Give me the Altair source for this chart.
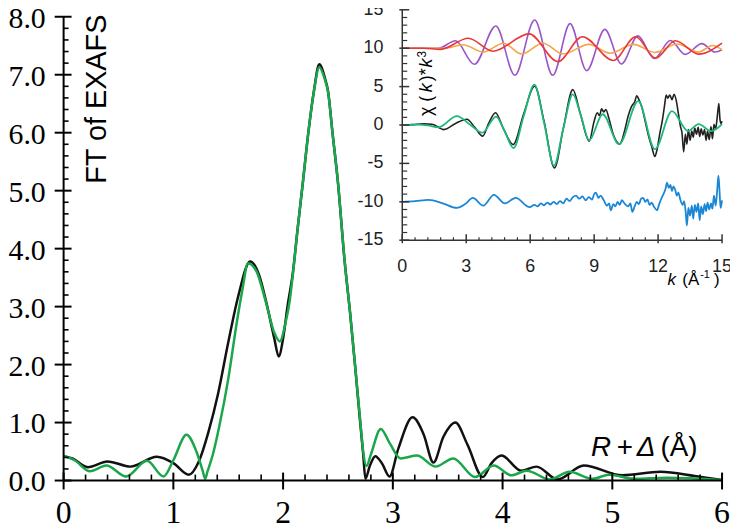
import altair as alt
import pandas as pd

# ---------------- main panel: |FT| of EXAFS ----------------
R_exp = [0.00,0.08,0.22,0.40,0.61,0.85,1.00,1.14,1.23,1.32,1.41,1.50,1.59,1.70,1.78,1.85,1.92,1.96,2.00,2.04,2.09,2.13,2.18,2.23,2.28,2.33,2.38,2.41,2.45,2.50,2.56,2.61,2.66,2.70,2.73,2.75,2.79,2.84,2.90,2.97,3.05,3.18,3.28,3.37,3.46,3.57,3.68,3.82,3.90,3.99,4.17,4.31,4.50,4.74,5.09,5.44,5.75,6.00]
FT_exp = [0.42,0.38,0.23,0.33,0.24,0.41,0.30,0.10,0.32,0.84,1.52,2.38,3.17,3.78,3.55,3.05,2.45,2.14,2.45,3.00,3.60,4.30,5.14,6.00,6.71,7.18,6.95,6.71,6.00,5.14,3.80,2.90,1.90,1.05,0.45,0.03,0.25,0.42,0.30,0.07,0.55,1.09,0.80,0.31,0.75,1.00,0.62,0.06,0.30,0.43,0.17,0.24,0.02,0.26,0.09,0.15,0.08,0.01]

R_fit = [0.00,0.10,0.24,0.39,0.57,0.76,0.91,1.00,1.12,1.21,1.27,1.29,1.31,1.36,1.42,1.50,1.58,1.63,1.68,1.76,1.84,1.92,1.97,2.02,2.06,2.10,2.13,2.18,2.23,2.28,2.33,2.38,2.41,2.45,2.50,2.56,2.61,2.66,2.70,2.73,2.76,2.80,2.89,2.97,3.07,3.22,3.39,3.55,3.75,3.92,4.08,4.22,4.43,4.61,4.82,4.97,5.20,5.50,6.00]
FT_fit = [0.43,0.35,0.16,0.26,0.07,0.34,0.07,0.35,0.79,0.50,0.15,0.03,0.15,0.45,0.95,1.75,2.75,3.30,3.75,3.60,3.10,2.55,2.40,2.70,3.10,3.75,4.30,5.14,6.00,6.70,7.13,6.92,6.70,6.00,5.14,3.80,2.90,1.90,1.10,0.50,0.25,0.45,0.89,0.65,0.38,0.43,0.24,0.38,0.06,0.26,0.09,0.17,0.02,0.15,0.03,0.10,0.03,0.05,0.01]

main_x_major = [0, 1, 2, 3, 4, 5, 6]
main_x_labels = ["0", "1", "2", "3", "4", "5", "6"]
main_x_minor = [round(i * 0.2, 1) for i in range(31) if i % 5 != 0]
main_y_major = [0, 1, 2, 3, 4, 5, 6, 7, 8]
main_y_labels = ["0.0", "1.0", "2.0", "3.0", "4.0", "5.0", "6.0", "7.0", "8.0"]
main_y_minor = [round(i * 0.2, 1) for i in range(41) if i % 5 != 0]

# ---------------- inset: chi(k)*k^3 ----------------
k_purple = [0.0,1.7,2.5,3.38,4.39,5.28,6.21,7.06,7.87,8.65,9.5,10.28,11.05,11.82,12.58,13.27,14.05,14.67,15.0]
v_purple = [10,10,10.96,7.9,12.9,6.47,13.67,6.47,13.2,7.07,12.45,7.95,11.6,8.65,11.0,9.2,10.6,9.5,9.8]

k_orange = [0.0,2.0,2.85,3.8,4.75,5.6,6.6,7.55,8.75,9.75,10.85,11.85,12.9,13.9,14.55,15.0]
v_orange = [10,10,10.45,9.5,10.65,9.25,10.65,9.25,10.5,9.35,10.5,9.45,10.55,9.5,10.35,9.8]

k_red = [0.0,1.0,1.8,3.1,4.25,5.95,7.3,8.45,9.9,10.95,11.88,12.81,13.9,15.0]
v_red = [10,10,9.85,11.3,9.6,11.86,8.25,11.5,8.4,11.5,8.71,10.96,9.23,10.65]

k_exp = [0.0,0.5,1.0,1.4,1.95,2.5,3.03,3.4,3.77,4.05,4.37,4.75,5.2,5.7,6.21,6.65,7.14,7.55,8.0,8.35,8.77,9.0,9.15,9.25,9.35,9.45,9.55,9.7,9.85,10.0,10.1,10.2,10.3,10.45,10.6,10.75,10.9,11.0,11.1,11.25,11.4,11.55,11.7,11.85,11.95,12.1,12.2,12.3,12.38,12.45,12.55,12.65,12.75,12.85,12.95,13.05,13.12,13.2,13.28,13.35,13.42,13.5,13.58,13.65,13.72,13.8,13.88,13.95,14.02,14.1,14.18,14.25,14.32,14.4,14.48,14.55,14.62,14.7,14.78,14.85,14.9,14.95,15.0]
v_exp = [0.0,0.05,0.15,0.1,-0.6,0.2,0.75,-0.3,-1.45,0.2,1.6,-0.5,-2.55,1.5,5.05,0.5,-5.6,-0.5,4.6,1.5,-2.1,0.5,1.6,1.2,2.1,1.7,2.0,0.8,-0.8,-1.9,-2.3,-2.5,-2.0,-0.5,1.2,2.4,3.0,3.8,3.3,2.2,0.4,-1.4,-2.8,-4.1,-3.2,-0.8,0.6,2.5,3.9,3.5,3.9,3.3,4.0,3.2,1.5,-0.2,-1.0,-3.5,-1.2,-2.5,-0.6,-2.0,-0.8,-1.6,-0.4,-1.2,-0.3,-1.5,-0.5,-1.3,-0.6,-2.0,-0.8,-1.9,-0.2,-1.8,0.1,-0.5,1.2,2.8,0.8,0.2,0.5]

k_fit = [0.0,0.8,1.2,1.7,2.56,3.2,3.75,4.4,4.8,5.22,5.7,6.2,6.65,7.12,7.55,8.0,8.4,8.77,9.4,10.17,11.07,11.85,12.65,13.4,13.9,14.5,15.0]
v_fit = [0.0,0.05,-0.05,-0.3,1.16,0.0,-1.0,1.1,-0.8,-3.0,1.2,5.25,0.3,-5.3,-0.5,4.0,1.0,-2.0,1.4,-2.5,3.1,-3.15,1.81,-0.78,0.1,-0.8,0.1]

k_res = [0.0,0.6,1.24,1.9,2.56,2.95,3.31,3.8,4.3,4.81,5.32,5.98,6.2,6.35,6.5,6.65,6.8,6.95,7.1,7.25,7.4,7.55,7.7,7.85,8.0,8.15,8.3,8.45,8.6,8.75,8.9,9.0,9.08,9.2,9.3,9.45,9.6,9.7,9.78,9.9,10.0,10.1,10.2,10.3,10.45,10.6,10.7,10.79,10.9,11.0,11.1,11.2,11.3,11.4,11.5,11.6,11.7,11.8,11.95,12.05,12.15,12.25,12.35,12.42,12.5,12.58,12.65,12.72,12.8,12.88,12.95,13.05,13.15,13.22,13.3,13.35,13.42,13.5,13.58,13.65,13.72,13.8,13.88,13.95,14.02,14.1,14.18,14.25,14.32,14.4,14.48,14.55,14.62,14.7,14.78,14.83,14.88,14.93,15.0]
v_res = [-10,-9.9,-9.75,-10.2,-10.8,-10.3,-9.5,-10.5,-9.1,-10.2,-9.5,-10.7,-10.4,-10.6,-10.2,-10.45,-10.1,-10.35,-10.0,-10.3,-9.9,-10.2,-9.6,-9.9,-9.4,-9.2,-9.6,-9.3,-9.8,-9.4,-9.7,-9.0,-8.8,-9.5,-9.2,-9.8,-10.5,-10.2,-11.1,-10.3,-10.6,-10.0,-10.4,-9.8,-10.3,-10.6,-10.2,-11.3,-10.6,-10.0,-10.3,-9.6,-9.5,-10.0,-9.7,-10.4,-10.1,-10.6,-11.1,-10.3,-9.6,-9.0,-8.3,-7.5,-8.2,-7.8,-8.6,-8.0,-8.4,-9.2,-8.8,-9.8,-10.4,-9.9,-11.5,-13.1,-10.8,-11.8,-10.5,-12.2,-10.4,-11.3,-10.2,-12.4,-10.6,-11.6,-10.3,-11.2,-10.1,-11.0,-10.2,-10.9,-9.2,-10.5,-8.2,-6.6,-8.5,-10.8,-9.8]

in_x_major = [0, 3, 6, 9, 12, 15]
in_x_labels = ["0", "3", "6", "9", "12", "15"]
in_x_minor = [round(i * 0.6, 1) for i in range(26) if i % 5 != 0]
in_y_major = [-15, -10, -5, 0, 5, 10, 15]
in_y_labels = ["-15", "-10", "-5", "0", "5", "10", "15"]
in_y_minor = [i for i in range(-15, 16) if i % 5 != 0]

# ---------------- geometry / scales ----------------
W, H = 663, 467
mx = alt.Scale(domain=[0, 6], range=[0, W], nice=False, zero=False)
my = alt.Scale(domain=[0, 8], range=[H, 0], nice=False, zero=False)
ix = alt.Scale(domain=[0, 15], range=[341, 663], nice=False, zero=False)
iy = alt.Scale(domain=[-15, 15], range=[225, -7], nice=False, zero=False)

SERIF = "Liberation Serif"
SANS = "Liberation Sans"


def series(xs, ys, color, width, xs_scale, ys_scale):
    df = pd.DataFrame({"x": xs, "y": ys})
    return alt.Chart(df).mark_line(color=color, strokeWidth=width, interpolate="monotone").encode(
        x=alt.X("x:Q", scale=xs_scale, axis=None),
        y=alt.Y("y:Q", scale=ys_scale, axis=None),
    )


def one_row():
    return pd.DataFrame({"a": [0]})


def label(text, x, y, size, font=SANS, style="normal", angle=0, align="left", baseline="alphabetic"):
    kw = dict(text=text, fontSize=size, font=font, fontStyle=style, align=align, baseline=baseline, color="black")
    if angle:
        kw["angle"] = angle
    return alt.Chart(one_row()).mark_text(**kw).encode(x=alt.value(x), y=alt.value(y))


# ----- main layers -----
m_lines = [
    series(R_exp, FT_exp, "#111111", 2.5, mx, my),
    series(R_fit, FT_fit, "#1aa64a", 2.5, mx, my),
]

m_yaxis = alt.Chart(pd.DataFrame({"a": [0], "b": [8]})).mark_rule(color="black", strokeWidth=2).encode(
    y=alt.Y("a:Q", scale=my, axis=None), y2="b:Q", x=alt.value(0))
m_xaxis = alt.Chart(pd.DataFrame({"a": [0], "b": [6]})).mark_rule(color="black", strokeWidth=2).encode(
    x=alt.X("a:Q", scale=mx, axis=None), x2="b:Q", y=alt.value(H))

m_ytick_major = alt.Chart(pd.DataFrame({"v": main_y_major})).mark_rule(color="black", strokeWidth=2).encode(
    y=alt.Y("v:Q", scale=my, axis=None), x=alt.value(-9), x2=alt.value(8))
m_ytick_minor = alt.Chart(pd.DataFrame({"v": main_y_minor})).mark_rule(color="black", strokeWidth=1.6).encode(
    y=alt.Y("v:Q", scale=my, axis=None), x=alt.value(0), x2=alt.value(5))
m_xtick_major = alt.Chart(pd.DataFrame({"v": main_x_major})).mark_rule(color="black", strokeWidth=2).encode(
    x=alt.X("v:Q", scale=mx, axis=None), y=alt.value(H - 8), y2=alt.value(H + 9))
m_xtick_minor = alt.Chart(pd.DataFrame({"v": main_x_minor})).mark_rule(color="black", strokeWidth=1.6).encode(
    x=alt.X("v:Q", scale=mx, axis=None), y=alt.value(H - 6), y2=alt.value(H))

m_ylab = alt.Chart(pd.DataFrame({"v": main_y_major, "t": main_y_labels})).mark_text(
    align="right", baseline="middle", font=SERIF, fontSize=30, color="black", dy=2).encode(
    y=alt.Y("v:Q", scale=my, axis=None), x=alt.value(-18), text="t:N")
m_xlab = alt.Chart(pd.DataFrame({"v": main_x_major, "t": main_x_labels})).mark_text(
    align="center", baseline="alphabetic", font=SERIF, fontSize=32, color="black").encode(
    x=alt.X("v:Q", scale=mx, axis=None), y=alt.value(H + 43), text="t:N")

m_titles = [
    label("FT of EXAFS", 43, 83, 29, angle=270, align="center"),
    label("R", 531, 442, 28, style="italic"),
    label("+", 557, 442, 28),
    label("\u0394", 577, 442, 28, style="italic"),
    label("(\u00c5)", 601, 442, 28),
]

main = alt.layer(*m_lines, m_yaxis, m_xaxis, m_ytick_major, m_ytick_minor,
                 m_xtick_major, m_xtick_minor, m_ylab, m_xlab, *m_titles)

# ----- inset layers -----
X0, Y0 = 341, 225
i_lines = [
    series(k_purple, v_purple, "#9b55c8", 1.6, ix, iy),
    series(k_orange, v_orange, "#f5a54a", 1.6, ix, iy),
    series(k_red, v_red, "#e8383a", 1.6, ix, iy),
    series(k_exp, v_exp, "#222222", 1.6, ix, iy),
    series(k_fit, v_fit, "#1cb877", 1.8, ix, iy),
    series(k_res, v_res, "#1a86d6", 1.8, ix, iy),
]

i_yaxis = alt.Chart(pd.DataFrame({"a": [-15], "b": [15]})).mark_rule(color="#333333", strokeWidth=1.5).encode(
    y=alt.Y("a:Q", scale=iy, axis=None), y2="b:Q", x=alt.value(X0))
i_xaxis = alt.Chart(pd.DataFrame({"a": [0], "b": [15]})).mark_rule(color="#333333", strokeWidth=1.5).encode(
    x=alt.X("a:Q", scale=ix, axis=None), x2="b:Q", y=alt.value(Y0))
i_ytick_major = alt.Chart(pd.DataFrame({"v": in_y_major})).mark_rule(color="#333333", strokeWidth=1.5).encode(
    y=alt.Y("v:Q", scale=iy, axis=None), x=alt.value(X0 - 3), x2=alt.value(X0 + 7))
i_ytick_minor = alt.Chart(pd.DataFrame({"v": in_y_minor})).mark_rule(color="#333333", strokeWidth=1.2).encode(
    y=alt.Y("v:Q", scale=iy, axis=None), x=alt.value(X0), x2=alt.value(X0 + 5))
i_xtick_major = alt.Chart(pd.DataFrame({"v": in_x_major})).mark_rule(color="#333333", strokeWidth=1.5).encode(
    x=alt.X("v:Q", scale=ix, axis=None), y=alt.value(Y0 - 6), y2=alt.value(Y0 + 3))
i_xtick_minor = alt.Chart(pd.DataFrame({"v": in_x_minor})).mark_rule(color="#333333", strokeWidth=1.2).encode(
    x=alt.X("v:Q", scale=ix, axis=None), y=alt.value(Y0 - 3), y2=alt.value(Y0))

i_ylab = alt.Chart(pd.DataFrame({"v": in_y_major, "t": in_y_labels})).mark_text(
    align="right", baseline="middle", font=SANS, fontSize=18, color="#222222").encode(
    y=alt.Y("v:Q", scale=iy, axis=None), x=alt.value(X0 - 19), text="t:N")
i_xlab = alt.Chart(pd.DataFrame({"v": in_x_major, "t": in_x_labels})).mark_text(
    align="center", baseline="alphabetic", font=SANS, fontSize=18, color="#222222").encode(
    x=alt.X("v:Q", scale=ix, axis=None), y=alt.value(Y0 + 32), text="t:N")

i_titles = [
    label("k", 608, 270, 17, style="italic"),
    label("(\u00c5", 623, 270, 17),
    label("-1", 641, 263, 11),
    label(")", 655, 270, 17),
    label("\u03c7 (", 371, 100, 18, angle=270),
    label("k", 371, 76, 18, style="italic", angle=270),
    label(")*", 371, 65, 18, angle=270),
    label("k", 371, 51, 18, style="italic", angle=270),
    label("3", 365, 41, 12, angle=270),
]

inset = alt.layer(*i_lines, i_yaxis, i_xaxis, i_ytick_major, i_ytick_minor,
                  i_xtick_major, i_xtick_minor, i_ylab, i_xlab, *i_titles)

chart = alt.layer(main, inset).resolve_scale(x="independent", y="independent").properties(
    width=W, height=H,
    autosize=alt.AutoSizeParams(type="none"),
    padding={"left": 56, "top": 7, "right": 8, "bottom": 48},
    background="white",
).configure_view(stroke=None)

chart.save("out.html", embed_options={"renderer": "svg", "actions": False})
